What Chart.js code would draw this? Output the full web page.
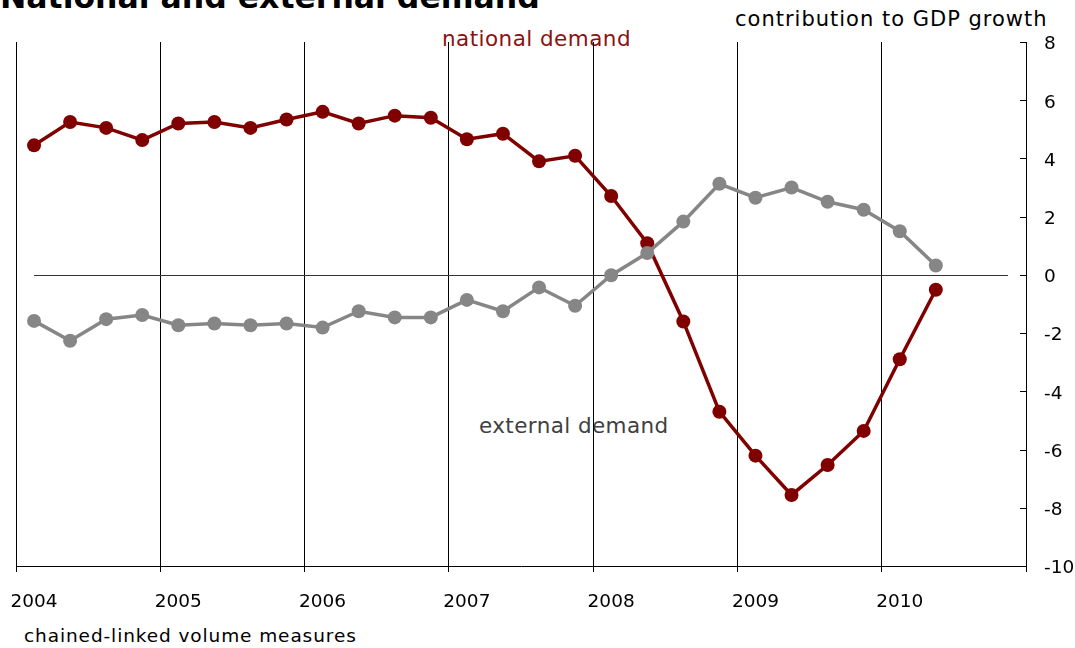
<!DOCTYPE html>
<html>
<head>
<meta charset="utf-8">
<script src="https://cdn.jsdelivr.net/npm/chart.js@4/dist/chart.umd.min.js"></script>
<style>
  html, body { margin: 0; padding: 0; background: #ffffff; }
  #wrap { position: relative; width: 1075px; height: 648px; overflow: hidden; }
  #wrap canvas { position: absolute; left: 0; top: 0; z-index: 1; }
  .note { position: absolute; white-space: nowrap; font-family: "DejaVu Sans", sans-serif; line-height: 1; z-index: 0; }
  #title { left: 0; top: -18px; font-size: 31.5px; font-weight: bold; color: #000; }
  #unit { left: 735px; top: 9px; font-size: 21px; letter-spacing: 1px; color: #000; }
  #natLabel { left: 442px; top: 28px; font-size: 21.5px; letter-spacing: 0.45px; color: #8c1212; }
  #extLabel { left: 479px; top: 415px; font-size: 21.5px; letter-spacing: 0.4px; color: #404040; }
  #source { left: 24px; top: 627px; font-size: 18.5px; letter-spacing: 0.9px; color: #000; }
</style>
</head>
<body>
<div id="wrap">
  <div class="note" id="title">National and external demand</div>
  <div class="note" id="unit">contribution to GDP growth</div>
  <div class="note" id="natLabel">national demand</div>
  <div class="note" id="extLabel">external demand</div>
  <div class="note" id="source">chained-linked volume measures</div>
  <canvas id="chart" width="1075" height="648"></canvas>
</div>
<script>
// Quarterly observations, 2004 Q1 – 2010 Q2
const QUARTERS = [
  '2004 Q1', '2004 Q2', '2004 Q3', '2004 Q4',
  '2005 Q1', '2005 Q2', '2005 Q3', '2005 Q4',
  '2006 Q1', '2006 Q2', '2006 Q3', '2006 Q4',
  '2007 Q1', '2007 Q2', '2007 Q3', '2007 Q4',
  '2008 Q1', '2008 Q2', '2008 Q3', '2008 Q4',
  '2009 Q1', '2009 Q2', '2009 Q3', '2009 Q4',
  '2010 Q1', '2010 Q2'
];

// Contribution to GDP growth, percentage points
const NATIONAL_DEMAND = [
  4.45, 5.25, 5.05, 4.63,
  5.20, 5.25, 5.05, 5.34,
  5.60, 5.20, 5.47, 5.40,
  4.66, 4.85, 3.90, 4.09,
  2.71, 1.09, -1.60, -4.70,
  -6.21, -7.56, -6.53, -5.36,
  -2.90, -0.51
];

const EXTERNAL_DEMAND = [
  -1.58, -2.26, -1.52, -1.38,
  -1.73, -1.67, -1.73, -1.67,
  -1.81, -1.25, -1.46, -1.46,
  -0.86, -1.25, -0.43, -1.06,
  -0.01, 0.75, 1.83, 3.13,
  2.65, 3.00, 2.51, 2.24,
  1.50, 0.32
];

// Axis labelling
const YEAR_LABELS = ['2004', '2005', '2006', '2007', '2008', '2009', '2010'];
const X_MIN = 2004, X_MAX = 2011;
const Y_MIN = -10, Y_MAX = 8, Y_STEP = 2;
const ZERO_LINE_END = 2010.875;

// Quarter label -> position in years (centre of the quarter)
function quarterPos(label) {
  const [y, q] = label.split(' Q');
  return Number(y) + (Number(q) - 0.5) / 4;
}
const toPoints = vals => QUARTERS.map((q, i) => ({ x: quarterPos(q), y: vals[i] }));

const RED = '#800000';
const GREY = '#868686';

Chart.defaults.font.family = '"DejaVu Sans", sans-serif';
Chart.defaults.color = '#000';

// Zero reference line and inward tick marks on the right-hand value axis
const axisDecor = {
  id: 'axisDecor',
  beforeDatasetsDraw(chart) {
    const { ctx, scales: { x, y } } = chart;
    const y0 = Math.round(y.getPixelForValue(0)) + 0.5;
    ctx.save();
    ctx.strokeStyle = '#333';
    ctx.lineWidth = 1;
    ctx.beginPath();
    ctx.moveTo(x.getPixelForValue(quarterPos(QUARTERS[0])), y0);
    ctx.lineTo(x.getPixelForValue(ZERO_LINE_END), y0);
    ctx.stroke();
    ctx.restore();
  },
  afterDraw(chart) {
    const { ctx, chartArea, scales: { y } } = chart;
    ctx.save();
    ctx.strokeStyle = '#000';
    ctx.lineWidth = 1;
    ctx.beginPath();
    y.ticks.forEach(t => {
      const py = Math.round(y.getPixelForValue(t.value)) + 0.5;
      ctx.moveTo(chartArea.right - 6, py);
      ctx.lineTo(chartArea.right, py);
    });
    ctx.stroke();
    ctx.restore();
  }
};

new Chart(document.getElementById('chart'), {
  type: 'line',
  data: {
    datasets: [
      {
        label: 'national demand',
        data: toPoints(NATIONAL_DEMAND),
        borderColor: RED,
        backgroundColor: RED,
        borderWidth: 3.5,
        pointRadius: 7,
        pointBorderWidth: 0,
        pointHoverRadius: 7,
        tension: 0,
        order: 2
      },
      {
        label: 'external demand',
        data: toPoints(EXTERNAL_DEMAND),
        borderColor: GREY,
        backgroundColor: GREY,
        borderWidth: 3.5,
        pointRadius: 7,
        pointBorderWidth: 0,
        pointHoverRadius: 7,
        tension: 0,
        order: 1
      }
    ]
  },
  options: {
    responsive: false,
    animation: false,
    devicePixelRatio: 1,
    layout: { padding: { top: 42, left: 16, right: 0, bottom: 0 } },
    plugins: {
      legend: { display: false },
      title: { display: false },
      tooltip: { enabled: false }
    },
    scales: {
      x: {
        type: 'linear',
        position: 'bottom',
        min: X_MIN,
        max: X_MAX,
        afterBuildTicks(scale) {
          const ticks = [];
          for (let v = X_MIN; v <= X_MAX; v++) ticks.push({ value: v });
          scale.ticks = ticks;
        },
        afterFit(scale) {
          scale.height = 82;
          scale.paddingLeft = 0;
          scale.paddingRight = 0;
        },
        ticks: {
          autoSkip: false,
          maxRotation: 0,
          labelOffset: 18,
          padding: 19,
          font: { size: 18.5 },
          color: '#000',
          callback: (value, index) => YEAR_LABELS[index] ?? ''
        },
        grid: {
          color: '#000',
          lineWidth: 1,
          drawTicks: true,
          tickLength: 6,
          tickColor: '#000'
        },
        border: { display: true, color: '#000', width: 1 }
      },
      y: {
        type: 'linear',
        position: 'right',
        min: Y_MIN,
        max: Y_MAX,
        afterFit(scale) {
          scale.width = 49;
          scale.paddingTop = 0;
          scale.paddingBottom = 0;
        },
        ticks: {
          stepSize: Y_STEP,
          padding: 10,
          labelOffset: 2.5,
          font: { size: 18.5 },
          color: '#000'
        },
        grid: { display: false },
        border: { display: true, color: '#000', width: 1 }
      }
    }
  },
  plugins: [axisDecor]
});
</script>
</body>
</html>
